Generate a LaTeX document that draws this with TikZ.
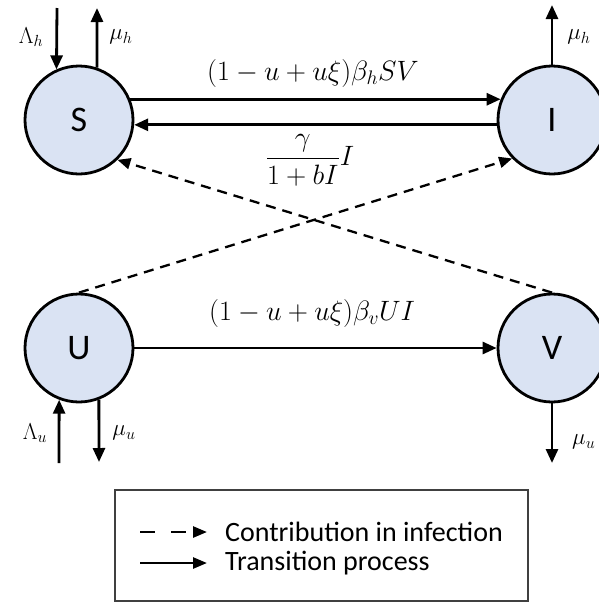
\RequirePackage{fix-cm}
\documentclass[tikz,border=0pt]{standalone}
\usepackage{fontspec,amsmath}
\usepackage{tikz}
\usetikzlibrary{arrows.meta,positioning}
\newfontfamily\labelfont{Carlito}
\definecolor{compfill}{HTML}{DAE3F3}
\definecolor{boxline}{HTML}{404040}
\tikzset{
  comp/.style={draw,circle,line width=2.8pt,fill=compfill,minimum size=108pt,inner sep=0pt,font=\labelfont\fontsize{36}{40}\selectfont},
  trans/.style={-{Triangle[length=14pt,width=12pt]},line width=2.8pt},
  contrib/.style={-{Triangle[length=13pt,width=11pt]},line width=2.3pt,dash pattern=on 10pt off 7pt},
  ratelabel/.style={font=\fontsize{28}{32}\selectfont,inner sep=0pt},
  flowlabel/.style={font=\fontsize{23}{26}\selectfont,inner sep=0pt},
  legendtext/.style={font=\labelfont\fontsize{28}{32}\selectfont,anchor=west,inner sep=0pt}
}

\begin{document}
\begin{tikzpicture}[
  x=1pt,y=-1pt,
  legendbox/.style={draw=boxline,line width=1.3pt,minimum width=413pt,minimum height=111pt,inner sep=0pt},
  legarrow/.style={-{Triangle[length=14pt,width=11pt]},line width=2.6pt}
]
  \useasboundingbox (0,0) rectangle (599,603);

  % compartments
  \node[comp] (S) at (79,120) {S};
  \node[comp] (I) at (552,120) {I};
  \node[comp] (U) at (79,348) {U};
  \node[comp] (V) at (552,348) {V};

  % transitions
  \draw[trans] (S.22) -- (I.158);
  \draw[trans] (I.185) -- (S.-5);
  \draw[trans] (U.east) -- (V.west);

  % contributions
  \draw[contrib] (U.north) -- (I.224);
  \draw[contrib] (V.north) -- (S.-46);

  % births and deaths
  \coordinate (Sin) at (57,8);
  \coordinate (Sout) at (97,8);
  \coordinate (Iout) at (552,5);
  \coordinate (Uin) at (59,463);
  \coordinate (Uout) at (99,462);
  \coordinate (Vout) at (552,463);
  \draw[trans] (Sin) -- (S.114);
  \draw[trans] (S.71) -- (Sout);
  \draw[trans] (I.north) -- (Iout);
  \draw[trans] (Uin) -- (U.-111);
  \draw[trans] (U.-69) -- (Uout);
  \draw[trans] (V.south) -- (Vout);

  \node[flowlabel] (lamh) at (31,37) {$\Lambda_h$};
  \node[flowlabel] (muhS) at (121,37) {$\mu_h$};
  \node[flowlabel] (muhI) at (579,37) {$\mu_h$};
  \node[flowlabel] (lamu) at (35,433) {$\Lambda_u$};
  \node[flowlabel] (muuU) at (124,433) {$\mu_u$};
  \node[flowlabel,anchor=west] (muuV) at (572,442) {$\mu_u$};

  \node[ratelabel] (infh) at (313,73) {$(1-u+u\xi)\beta_h SV$};
  \node[ratelabel] (recov) at (310,160) {$\dfrac{\gamma}{1+bI}I$};
  \node[ratelabel] (infv) at (312,313) {$(1-u+u\xi)\beta_v UI$};

  % legend
  \node[legendbox] (legend) at (321.5,545.5) {};
  \node[legendtext] (lcontrib) at (225,532) {Contribution in infection};
  \node[legendtext] (ltrans) at (225,563) {Transition process};
  \coordinate (ldash) at (140,532);
  \coordinate (lsolid) at (140,563);
  \draw[legarrow,dash pattern=on 15pt off 16pt] (ldash) -- ([xshift=-18pt]lcontrib.west);
  \draw[legarrow] (lsolid) -- ([xshift=-18pt]ltrans.west);
\end{tikzpicture}
\end{document}
